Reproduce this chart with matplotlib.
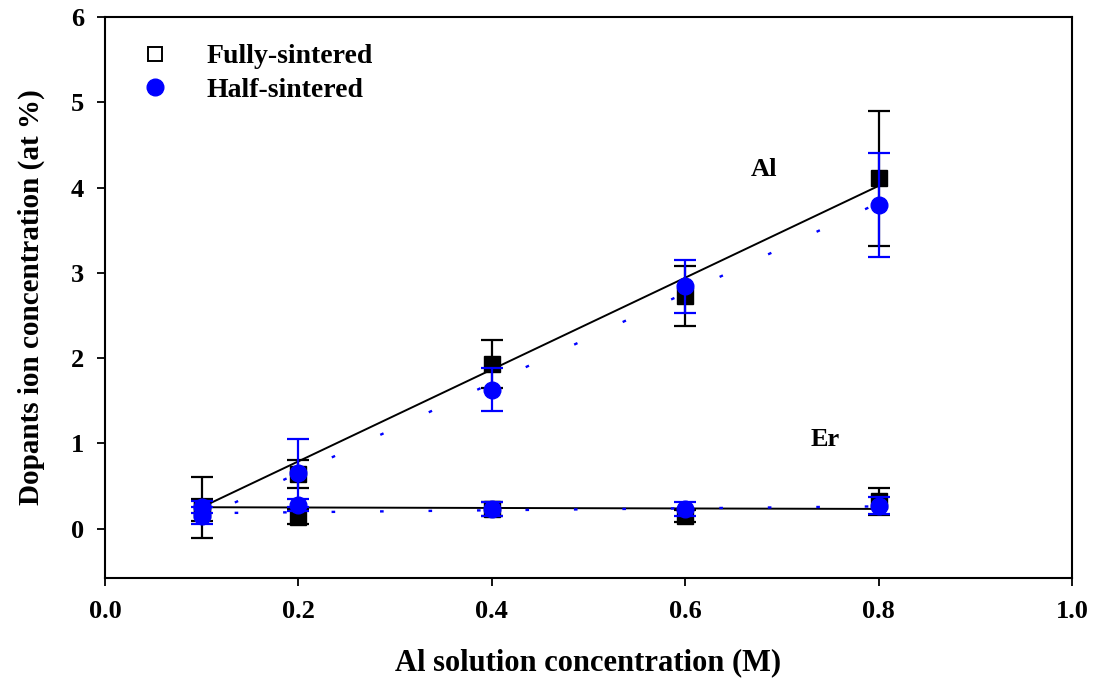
import matplotlib
matplotlib.use('Agg')
import matplotlib.pyplot as plt
from matplotlib.lines import Line2D

# Al solution concentration (M)
conc = [0.1, 0.2, 0.4, 0.6, 0.8]

# Al content, fully / half sintered
al_full = [0.25, 0.64, 1.93, 2.73, 4.11]
al_full_err = [0.36, 0.16, 0.28, 0.35, 0.79]
al_half = [0.15, 0.65, 1.63, 2.84, 3.80]
al_half_err = [0.10, 0.40, 0.25, 0.31, 0.61]

# Er content, fully / half sintered
er_full = [0.22, 0.14, 0.23, 0.15, 0.32]
er_full_err = [0.13, 0.09, 0.08, 0.07, 0.16]
er_half = [0.25, 0.28, 0.23, 0.23, 0.27]
er_half_err = [0.07, 0.07, 0.08, 0.08, 0.10]

# linear fit end points (x = 0.1 and 0.8)
fit_x = [0.1, 0.8]
al_fit_full = [0.25, 4.02]
al_fit_half = [0.124, 3.82]
er_fit_full = [0.25, 0.23]
er_fit_half = [0.18, 0.26]

plt.rcParams['font.family'] = ['Liberation Serif', 'DejaVu Serif']
plt.rcParams['font.weight'] = 'bold'
plt.rcParams['lines.scale_dashes'] = False

fig = plt.figure(figsize=(11.02, 6.84), dpi=100)
ax = fig.add_axes([0.0953, 0.155, 0.8775, 0.820])

blue = '#0000ff'

# fit lines
ax.plot(fit_x, al_fit_full, color='black', lw=1.4, zorder=2)
ax.plot(fit_x, er_fit_full, color='black', lw=1.4, zorder=2)
ax.plot(fit_x, al_fit_half, color=blue, lw=1.7, zorder=2,
        linestyle=(12.2, (2.6, 35.9)))
ax.plot(fit_x, er_fit_half, color=blue, lw=1.7, zorder=2,
        linestyle=(11.2, (2.6, 32.3)))

ekw = dict(capsize=8, elinewidth=1.6, capthick=1.6, linestyle='none')

# fully sintered (black squares)
ax.errorbar(conc, al_full, yerr=al_full_err, fmt='s', color='black',
            ms=11.5, zorder=3, **ekw)
ax.errorbar(conc, er_full, yerr=er_full_err, fmt='s', color='black',
            ms=11.5, zorder=3, **ekw)
# half sintered (blue circles)
ax.errorbar(conc, al_half, yerr=al_half_err, fmt='o', color=blue,
            ms=12, zorder=4, **ekw)
ax.errorbar(conc, er_half, yerr=er_half_err, fmt='o', color=blue,
            ms=12, zorder=4, **ekw)

ax.text(0.681, 4.21, 'Al', fontsize=19, fontweight='bold',
        ha='center', va='center')
ax.text(0.745, 1.04, 'Er', fontsize=19, fontweight='bold',
        ha='center', va='center')

ax.set_xlim(0, 1.0)
ax.set_ylim(-0.58, 6)
ax.set_xticks([0.0, 0.2, 0.4, 0.6, 0.8, 1.0])
ax.set_xticklabels(['0.0', '0.2', '0.4', '0.6', '0.8', '1.0'])
ax.set_yticks([0, 1, 2, 3, 4, 5, 6])
ax.tick_params(direction='out', length=6, width=1.3, labelsize=19)
ax.tick_params(axis='x', pad=10)
ax.tick_params(axis='y', pad=9)
for s in ax.spines.values():
    s.set_linewidth(1.5)

ax.set_xlabel('Al solution concentration (M)', fontsize=22,
              fontweight='bold', labelpad=18)
ax.set_ylabel('Dopants ion concentration (at %)', fontsize=21,
              fontweight='bold', labelpad=19)

handles = [
    Line2D([], [], marker='s', color='black', mfc='white', mec='black',
           mew=1.4, ms=10, linestyle='none'),
    Line2D([], [], marker='o', color=blue, ms=12, linestyle='none'),
]
ax.legend(handles, ['Fully-sintered', 'Half-sintered'], loc='upper left',
          bbox_to_anchor=(0.011, 0.972), borderaxespad=0, frameon=False,
          handletextpad=0.87, labelspacing=0.3,
          prop={'weight': 'bold', 'size': 20})

fig.savefig('out.png', dpi=100)
